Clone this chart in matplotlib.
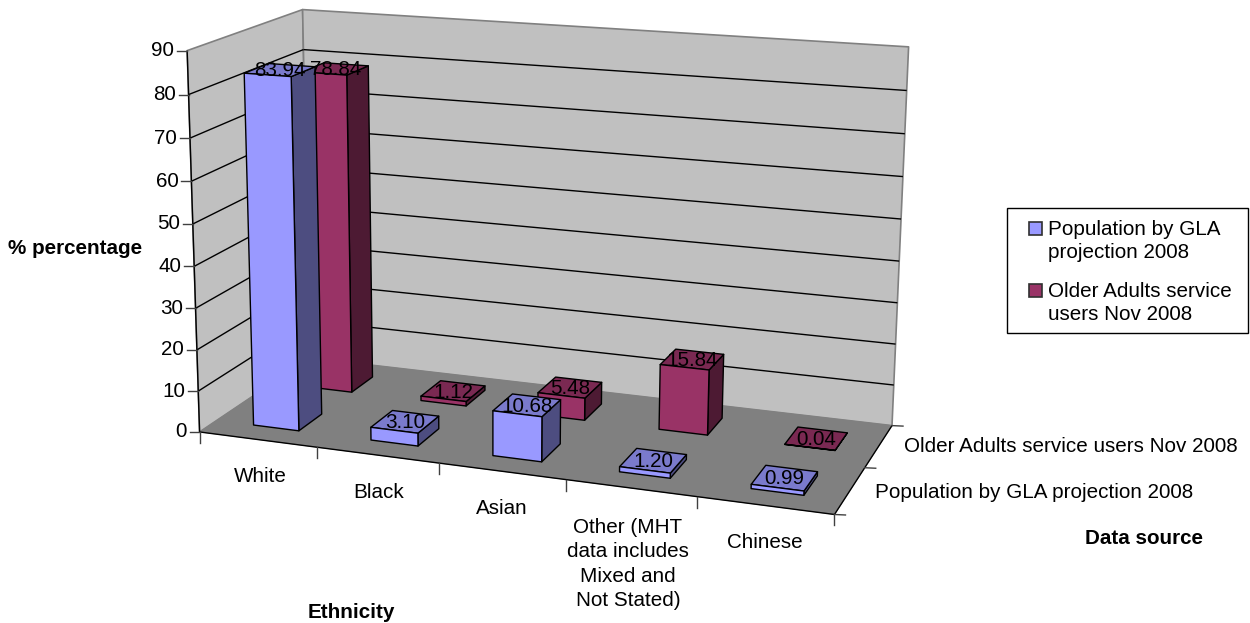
import matplotlib.pyplot as plt
from matplotlib.patches import Polygon, Rectangle
import numpy as np

plt.rcParams['font.family'] = ['Liberation Sans', 'DejaVu Sans']

categories = ['White', 'Black', 'Asian', 'Other (MHT\ndata includes\nMixed and\nNot Stated)', 'Chinese']
series_names = ['Population by GLA projection 2008', 'Older Adults service users Nov 2008']
legend_names = ['Population by GLA\nprojection 2008', 'Older Adults service\nusers Nov 2008']
population = [83.94, 3.10, 10.68, 1.20, 0.99]
service_users = [78.84, 1.12, 5.48, 15.84, 0.04]
value_ticks = [0, 10, 20, 30, 40, 50, 60, 70, 80, 90]

# face colours per series: front, side, top
colours = [('#9999FF', '#4D4D80', '#7A7ACC'), ('#993366', '#4D1A33', '#7A2952')]
FS = 14.85

n_cat = len(categories)
n_ser = len(series_names)
vmax = value_ticks[-1]


# perspective camera fitted to the box corners (category, series, value) -> pixel
def fit_camera(world, pixel):
    rows = []
    for (u, v, w), (x, y) in zip(world, pixel):
        rows.append([u, v, w, 1, 0, 0, 0, 0, -x*u, -x*v, -x*w, -x])
        rows.append([0, 0, 0, 0, u, v, w, 1, -y*u, -y*v, -y*w, -y])
    return np.linalg.svd(np.array(rows, dtype=float))[2][-1].reshape(3, 4)


cam = fit_camera(
    [(0, 0, 0), (n_cat, 0, 0), (n_cat, n_ser, 0), (0, n_ser, 0),
     (0, 0, vmax), (0, n_ser, vmax), (n_cat, n_ser, vmax)],
    [(203, 432), (834, 515), (893, 425), (306, 358),
     (184, 50), (306, 10), (908, 47)])


def proj(u, v, w):
    p = cam @ np.array([u, v, w, 1.0])
    return p[0]/p[2], p[1]/p[2]


fig = plt.figure(figsize=(12.5, 6.23), dpi=100)
ax = fig.add_axes([0, 0, 1, 1])
ax.set_xlim(0, 1250)
ax.set_ylim(623, 0)
ax.axis('off')


def face(corners, color, edge='black', lw=1.0, z=2):
    ax.add_patch(Polygon([proj(*c) for c in corners], closed=True, facecolor=color,
                         edgecolor=edge, linewidth=lw, joinstyle='round', zorder=z))


def seg(a, b, color='black', lw=1.0, z=1.5):
    pa, pb = proj(*a), proj(*b)
    ax.plot([pa[0], pb[0]], [pa[1], pb[1]], color=color, lw=lw, zorder=z, solid_capstyle='butt')


# walls and floor
face([(0, 0, 0), (0, n_ser, 0), (0, n_ser, vmax), (0, 0, vmax)], '#C0C0C0', '#808080', 1.2, 1)
face([(0, n_ser, 0), (n_cat, n_ser, 0), (n_cat, n_ser, vmax), (0, n_ser, vmax)], '#C0C0C0', '#808080', 1.2, 1)
face([(0, 0, 0), (n_cat, 0, 0), (n_cat, n_ser, 0), (0, n_ser, 0)], '#808080', '#808080', 0.5, 1.2)

# gridlines on both walls
for val in value_ticks[1:-1]:
    seg((0, 0, val), (0, n_ser, val))
    seg((0, n_ser, val), (n_cat, n_ser, val))

# axis lines and tick marks
seg((0, 0, 0), (0, 0, vmax), z=1.6)
seg((0, 0, 0), (n_cat, 0, 0), z=1.6)
seg((n_cat, 0, 0), (n_cat, n_ser, 0), z=1.6)
for val in value_ticks:
    x, y = proj(0, 0, val)
    ax.plot([x-10, x], [y, y], color='#404040', lw=1.0, zorder=1.6)
    ax.text(x-13, y, str(val), ha='right', va='center', fontsize=FS, color='black')
for i in range(n_cat+1):
    x, y = proj(i, 0, 0)
    ax.plot([x, x], [y, y+11], color='#404040', lw=1.0, zorder=1.6)
for j in range(n_ser+1):
    x, y = proj(n_cat, j, 0)
    ax.plot([x, x+11], [y, y+0.5], color='#404040', lw=1.0, zorder=1.6)

# bars, back series first, each drawn side / top / front
u0, u1 = 0.32, 0.71
v0, v1 = 0.29, 0.71
for j, vals in reversed(list(enumerate([population, service_users]))):
    front, side, top = colours[j]
    for i, val in enumerate(vals):
        a, b = i+u0, i+u1
        c, d = j+v0, j+v1
        z = 3 + (n_ser-j)*10 + i
        face([(b, c, 0), (b, d, 0), (b, d, val), (b, c, val)], side, z=z)
        face([(a, c, val), (b, c, val), (b, d, val), (a, d, val)], top, z=z)
        face([(a, c, 0), (b, c, 0), (b, c, val), (a, c, val)], front, z=z)
        x, y = proj((a+b)/2, (c+d)/2, val)
        ax.text(x, y+1, f'{val:.2f}', ha='center', va='center', fontsize=FS, color='black', zorder=60)

# category and series labels
cat_pos = [(260, 477), (379, 492), (502, 509), (628, 564), (765, 542)]
for name, (x, y) in zip(categories, cat_pos):
    ax.text(x, y, name, ha='center', va='center', fontsize=FS, linespacing=1.37)
ax.text(904, 447, series_names[1], ha='left', va='center', fontsize=FS)
ax.text(875, 492, series_names[0], ha='left', va='center', fontsize=FS)

ax.text(75, 248, '% percentage', ha='center', va='center', fontsize=FS, fontweight='bold')
ax.text(351, 612, 'Ethnicity', ha='center', va='center', fontsize=FS, fontweight='bold')
ax.text(1144, 538, 'Data source', ha='center', va='center', fontsize=FS, fontweight='bold')

# legend box with two swatches
ax.add_patch(Rectangle((1007, 208), 241, 125, facecolor='white', edgecolor='black', linewidth=1.0, zorder=70))
for k, y in enumerate([222, 284]):
    ax.add_patch(Rectangle((1029, y), 13, 13, facecolor=colours[k][0], edgecolor='#303030',
                           linewidth=1.2, zorder=71))
    ax.text(1048, y+19, legend_names[k], ha='left', va='center', fontsize=FS, linespacing=1.3, zorder=71)

fig.savefig('out.png', dpi=100)
